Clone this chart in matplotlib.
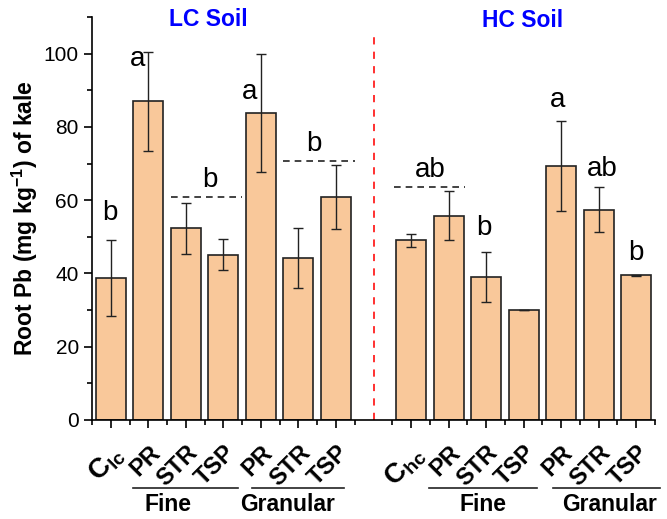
import matplotlib.pyplot as plt
import matplotlib.transforms as mtransforms
import numpy as np

plt.rcParams['font.family'] = ['Liberation Sans', 'DejaVu Sans']
plt.rcParams['mathtext.fontset'] = 'custom'
plt.rcParams['mathtext.rm'] = 'Liberation Sans'
plt.rcParams['mathtext.bf'] = 'Liberation Sans:bold'

# positions 0-6 LC soil, 8-14 HC soil (7 is the divider)
pos = [0, 1, 2, 3, 4, 5, 6, 8, 9, 10, 11, 12, 13, 14]
tick_labels = [r'$\mathbf{C_{lc}}$', 'PR', 'STR', 'TSP', 'PR', 'STR', 'TSP',
               r'$\mathbf{C_{hc}}$', 'PR', 'STR', 'TSP', 'PR', 'STR', 'TSP']
root_pb = [38.8, 87.0, 52.3, 45.1, 83.8, 44.2, 60.8,
           49.0, 55.8, 39.0, 29.9, 69.3, 57.4, 39.5]
err = [10.3, 13.5, 7.0, 4.2, 16.1, 8.2, 8.7,
       1.9, 6.8, 6.8, 0.0, 12.2, 6.1, 0.2]

# significance letters (x, y, text)
letter_x = [-0.02, 0.7, 2.65, 3.7, 5.4, 8.5, 9.95, 11.9, 13.1, 14.0]
letter_y = [56.5, 98.5, 65.5, 89.5, 75.3, 68.3, 52.3, 87.5, 68.5, 45.5]
letter_txt = ['b', 'a', 'b', 'a', 'b', 'ab', 'b', 'a', 'ab', 'b']

# dashed group lines (x start, x end, y)
grp_x0 = [1.6, 4.6, 7.55]
grp_x1 = [3.5, 6.5, 9.45]
grp_y = [60.9, 70.8, 63.7]

fig = plt.figure(figsize=(6.67, 5.19), dpi=100)
ax = fig.add_axes([0.138, 0.191, 0.844, 0.776])

ax.bar(pos, root_pb, width=0.8, color='#F9C89A', edgecolor='#222222', linewidth=1.2, zorder=2)
ax.errorbar(pos, root_pb, yerr=err, fmt='none', ecolor='#222222', elinewidth=1.0,
            capsize=3.5, capthick=1.0, zorder=3)

for x, y, t in zip(letter_x, letter_y, letter_txt):
    ax.text(x, y, t, ha='center', va='center', fontsize=20)

for x0, x1, y in zip(grp_x0, grp_x1, grp_y):
    ax.plot([x0, x1], [y, y], ls=(0, (4, 3)), color='#222222', lw=1.2)

ax.plot([7, 7], [0, 104.6], ls=(0, (4, 4)), color='#FF2020', lw=1.3)

ax.set_xlim(-0.5, 14.5)
ax.set_ylim(0, 110)
ax.set_yticks(np.arange(0, 101, 20))
ax.set_yticks(np.arange(10, 111, 20), minor=True)
ax.set_xticks(pos)
ax.set_xticks(np.arange(-0.5, 14.6, 1), minor=True)
ax.set_xticklabels(tick_labels, rotation=45, ha='right', va='top', rotation_mode='anchor',
                   fontsize=17, fontweight='bold')
shift = mtransforms.ScaledTranslation(14 / 100, 0, fig.dpi_scale_trans)
for lab in ax.get_xticklabels():
    lab.set_transform(lab.get_transform() + shift)
    if 'C_' in lab.get_text():
        lab.set_fontsize(20)
ax.tick_params(axis='y', labelsize=15, width=1.2, length=6)
ax.tick_params(axis='y', which='minor', width=1.2, length=3.5)
ax.tick_params(axis='x', width=1.2, length=6, pad=9)
ax.tick_params(axis='x', which='minor', width=1.2, length=3.5)

for s in ['top', 'right']:
    ax.spines[s].set_visible(False)
for s in ['left', 'bottom']:
    ax.spines[s].set_linewidth(1.2)

ax.set_ylabel(r'Root Pb (mg kg$^{\mathbf{-1}}$) of kale', fontsize=16.5, fontweight='bold', labelpad=3)

ax.text(0.206, 0.993, 'LC Soil', transform=ax.transAxes, ha='center', va='center',
        fontsize=16.5, fontweight='bold', color='#0000FF')
ax.text(0.764, 0.992, 'HC Soil', transform=ax.transAxes, ha='center', va='center',
        fontsize=16.5, fontweight='bold', color='#0000FF')

# group labels under the ticks
trans = mtransforms.blended_transform_factory(ax.transData, ax.transAxes)
grp_lbl = ['Fine', 'Granular', 'Fine', 'Granular']
grp_l0 = [0.59, 3.75, 8.48, 11.78]
grp_l1 = [3.4, 6.22, 11.35, 14.63]
grp_tx = [1.52, 4.7, 9.92, 13.3]
for a, b, tx, t in zip(grp_l0, grp_l1, grp_tx, grp_lbl):
    ax.plot([a, b], [-0.169, -0.169], color='#222222', lw=1.2, transform=trans, clip_on=False)
    ax.text(tx, -0.211, t, transform=trans, ha='center', va='center', fontsize=16.5, fontweight='bold')

plt.savefig('out.png', dpi=100)
